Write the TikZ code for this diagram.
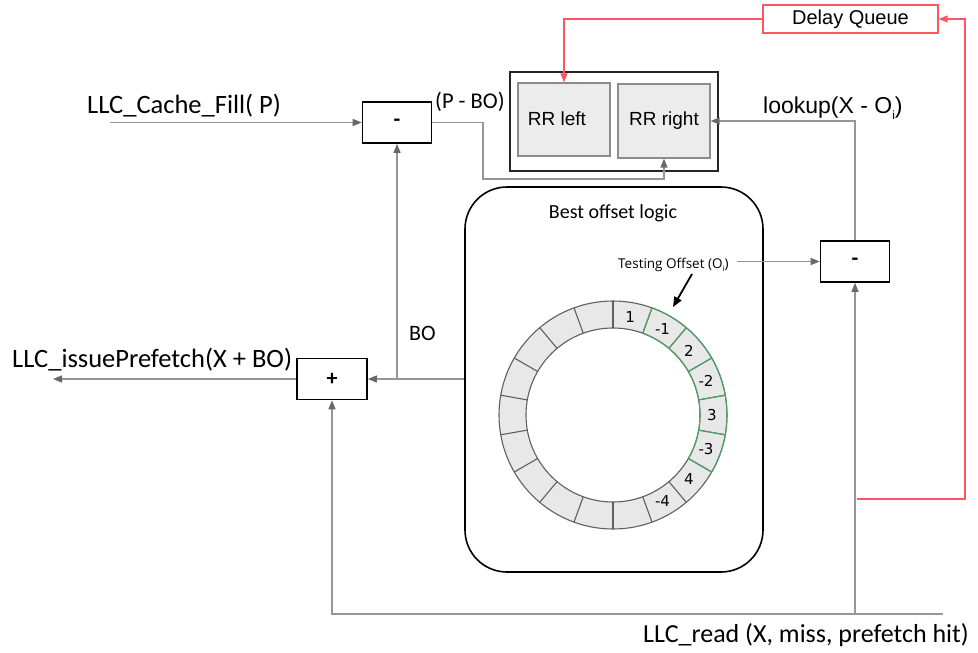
\documentclass[tikz,border=0pt]{standalone}
\usepackage{fontspec}
\setmainfont{Liberation Sans}
\newfontfamily\calf{Carlito}
\newfontfamily\arif{Liberation Sans}
\newfontfamily\opsf{Open Sans}
\newfontfamily\dejf{DejaVu Sans}
\usetikzlibrary{arrows.meta,calc}
\newcommand\fsz[1]{\fontsize{#1}{#1}\selectfont}
\definecolor{cgray}{RGB}{150,150,150}
\definecolor{cdark}{RGB}{105,105,105}
\definecolor{cred}{RGB}{255,85,100}
\definecolor{cgreen}{RGB}{75,160,100}
\definecolor{cring}{RGB}{232,232,232}
\definecolor{cedge}{RGB}{95,95,95}
\definecolor{cbox}{RGB}{236,236,236}
\definecolor{cboxe}{RGB}{140,140,140}
\begin{document}
\begin{tikzpicture}[x=1pt,y=-1pt,
  opbox/.style={draw=black, line width=1.6pt, fill=white, minimum width=69pt, minimum height=41pt, inner sep=0pt},
  rrbox/.style={draw=cboxe, line width=1.2pt, fill=cbox, minimum width=92pt, minimum height=73pt, inner sep=0pt},
  conn/.style={draw=cgray, line width=1.3pt, -{Triangle[length=9pt,width=7pt,color=cdark]}},
  rconn/.style={draw=cred, line width=1.3pt, -{Triangle[length=9pt,width=7pt,color=cred]}},
  lab/.style={inner sep=0pt, anchor=base west}]
\useasboundingbox (0,0) rectangle (978,653);

% boxes
\node[draw=cred, line width=1.2pt, minimum width=175pt, minimum height=28pt, inner sep=0pt] (dq) at (850.5,19) {\arif\fsz{20}Delay Queue};
\node[draw=black!85, line width=2.4pt, minimum width=208pt, minimum height=99pt, inner sep=0pt] (rr) at (614,121.5) {};
\node[rrbox] (rrl) at (564,119.5) {};
\node[inner sep=0pt] (rrlt) at (557,119) {\arif\fsz{19}RR left};
\node[rrbox, minimum height=74pt] (rrr) at (664,121) {\arif\fsz{19}RR right};
\node[opbox] (m1) at (397,122.5) {\calf\bfseries\fsz{22}-};
\node[opbox, minimum width=70pt] (plus) at (332,379) {\calf\bfseries\fsz{22}+};
\node[opbox] (m2) at (855,261.5) {\calf\bfseries\fsz{22}-};
\node[draw=black, line width=1.6pt, rounded corners=42pt, minimum width=298pt, minimum height=385pt, inner sep=0pt] (bol) at (614,379.5) {};

% labels
\node[lab] (cfl) at (87,113) {\calf\fsz{26.5}LLC\_Cache\_Fill( P)};
\node[lab] (pbl) at (435,108) {\calf\fsz{22.5}(P - BO)};
\node[lab] (ipl) at (12,367) {\calf\fsz{26.5}LLC\_issuePrefetch(X + BO)};
\node[lab] (bol2) at (409,340) {\calf\fsz{22}BO};
\node[lab] (rdl) at (643,642) {\calf\fsz{26}LLC\_read (X, miss, prefetch hit)};
\node[lab] (lkl) at (763,113) {\arif\fsz{23}lookup(X - O\raisebox{-6pt}{\fsz{12}i})};
\node[inner sep=0pt, anchor=base] (bott) at (613,218) {\calf\fsz{20}Best offset logic};
\node[lab] (to) at (618,268) {\opsf\fsz{13.5}Testing Offset (O\raisebox{-3pt}{\fsz{8}i})};

% ring
\begin{scope}[shift={(613,415)}]
  \fill[cring, even odd rule] (0,0) circle (114pt) (0,0) circle (87pt);
  \draw[cedge, line width=1.1pt] (0,0) circle (114pt) (0,0) circle (87pt);
  \foreach \a in {10,30,...,350} \draw[cedge, line width=1.1pt] (\a:87pt) -- (\a:114pt);
  \draw[cgreen, line width=1.1pt] (70:114pt) arc (70:-30:114pt);
  \draw[cgreen, line width=1.1pt] (70:87pt) arc (70:-30:87pt);
  \foreach \a in {70,50,...,-30} \draw[cgreen, line width=1.1pt] (\a:87pt) -- (\a:114pt);
  \foreach \a/\t in {80/1,60/-1,40/2,20/-2,0/3,-20/-3,-40/4,-60/-4}
    \node[inner sep=0pt] at (\a:99pt) {\dejf\fsz{15}\t};
\end{scope}

% connectors
\coordinate (cf) at (110,122.5);
\draw[conn] (cf) -- (m1.west);
\coordinate (pb1) at (483,179);
\draw[conn] (m1.east) -| (pb1) -| (rrr.south);
\coordinate (bj) at (m1.south |- plus.east);
\draw[conn] (bol.west |- plus.east) -- (plus.east);
\draw[conn] (bj) -- (m1.south);
\coordinate (po) at (53,379);
\draw[conn] (plus.west) -- (po);
\coordinate (br) at (943,614);
\draw[conn] (br) -| (plus.south);
\draw[conn] (m2.south |- br) -- (m2.south);
\draw[conn] (m2.north) |- (rrr.east);
\draw[conn] ($(to.east |- m2.west)+(8,0)$) -- (m2.west);
\coordinate (ta1) at (692,274);
\coordinate (ta2) at (673,307);
\draw[line width=1.8pt, -{Triangle[length=10pt,width=8pt]}] (ta1) -- (ta2);
\draw[rconn] (dq.west) -| (rrl.north);
\coordinate (r1) at (857,499);
\coordinate (r2) at (965,499);
\draw[rconn] (r1) -- (r2) |- (dq.east);
\end{tikzpicture}
\end{document}
